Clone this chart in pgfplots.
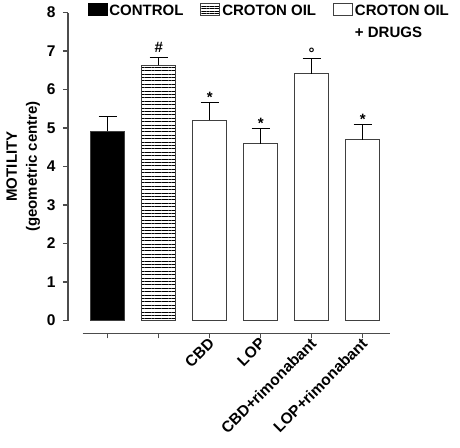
\documentclass[border=0pt]{standalone}
\usepackage{pgfplots}
\pgfplotsset{compat=1.18}
\usepackage{fontspec}
\setmainfont{Liberation Sans}
\usetikzlibrary{patterns.meta}
\newcommand{\lbl}{\fontsize{15bp}{20bp}\selectfont\bfseries}
\newcommand{\tlbl}{\fontsize{15.5bp}{20bp}\selectfont\bfseries}
\pgfplotsset{boxlegend/.style={legend image code/.code={\draw[##1] (0bp,0bp) rectangle (19bp,12bp);}}}
\begin{document}
\begin{tikzpicture}
\useasboundingbox (0,0) rectangle (460bp,-448bp);
\begin{axis}[
  at={(82.7bp,-320.5bp)}, anchor=south west,
  x=51bp, y=38.5bp,
  xmin=-0.49, xmax=5.535, ymin=0, ymax=8,
  axis lines*=left,
  axis x line shift=12.8bp,
  axis y line shift=14.7bp,
  axis line style={black!70, line width=1.2bp},
  tick style={black!70, line width=1.2bp},
  major tick length=5bp,
  tick align=outside,
  xtick={0,...,5},
  xticklabels={,,CBD,LOP,CBD+rimonabant,LOP+rimonabant},
  ytick={0,...,8},
  /pgf/number format/assume math mode=true,
  tick label style={font=\tlbl},
  yticklabel style={xshift=-4bp},
  xticklabel style={rotate=45, anchor=east, xshift=3bp, yshift=-3bp},
  ylabel={MOTILITY\\(geometric centre)},
  ylabel style={align=center, font=\lbl},
  clip=false,
  legend columns=3,
  legend style={draw=none, fill=none, at={(0.017,1.036)}, anchor=north west,
    inner sep=0pt, outer sep=0pt, font=\lbl,
    cells={anchor=base west},
    nodes={inner xsep=2bp, inner ysep=0bp},
    /tikz/every even column/.append style={column sep=15bp}},
]
\addlegendimage{boxlegend, fill=black, draw=black}
\addlegendentry{CONTROL}
\addlegendimage{boxlegend, pattern={Lines[angle=0,distance=2.6bp,line width=0.8bp]}, draw=black!75, line width=0.8bp}
\addlegendentry{CROTON OIL}
\addlegendimage{boxlegend, fill=white, draw=black!75, line width=0.8bp}
\addlegendentry{\begin{tabular}[t]{@{}l@{}}CROTON OIL\\[2.5bp]+ DRUGS\end{tabular}}

\addplot[forget plot, ybar, bar width=34bp, fill=black, draw=black!75, line width=1bp,
  error bars/.cd, y dir=plus, y explicit, error mark=|, error bar style={black, line width=1.1bp}, error mark options={black, line width=1.1bp, mark size=9bp}]
  coordinates {(0,4.92) +- (0,0.39)};
\addplot[forget plot, ybar, bar width=34bp, pattern={Lines[angle=0,distance=3.4bp,line width=0.9bp]}, draw=black!75, line width=1bp,
  error bars/.cd, y dir=plus, y explicit, error mark=|, error bar style={black, line width=1.1bp}, error mark options={black, line width=1.1bp, mark size=9bp}]
  coordinates {(1,6.63) +- (0,0.21)};
\addplot[forget plot, ybar, bar width=34bp, fill=white, draw=black!75, line width=1bp,
  error bars/.cd, y dir=plus, y explicit, error mark=|, error bar style={black, line width=1.1bp}, error mark options={black, line width=1.1bp, mark size=9bp}]
  coordinates {(2,5.20) +- (0,0.47) (3,4.59) +- (0,0.40) (4,6.41) +- (0,0.39) (5,4.70) +- (0,0.39)};

\addplot[forget plot, draw=none, mark=none, nodes near coords, point meta=explicit symbolic,
  nodes near coords style={font=\lbl, anchor=base, inner sep=0pt, yshift=5bp}]
  coordinates {(1,6.84) [\#]};
\addplot[forget plot, draw=none, mark=none, nodes near coords, point meta=explicit symbolic,
  nodes near coords style={font=\lbl, anchor=base, inner sep=0pt}]
  coordinates {(2,5.67) [*] (3,4.99) [*] (4,6.80) [°] (5,5.09) [*]};
\end{axis}
\end{tikzpicture}
\end{document}
